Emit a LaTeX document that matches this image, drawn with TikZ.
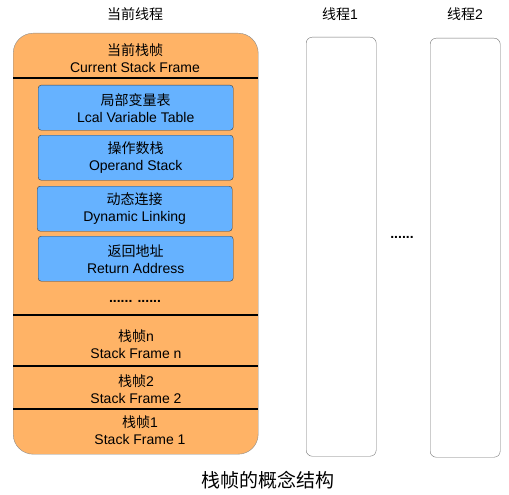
\documentclass[tikz,border=0pt]{standalone}
\usepackage{fontspec}
\setmainfont{Liberation Sans}
\newfontfamily\zhfont{Noto Sans CJK SC}
\newcommand{\zh}[1]{{\zhfont #1}}
\usepackage{xcolor}
\usetikzlibrary{calc, positioning}

\definecolor{frameorange}{RGB}{255,179,102}
\definecolor{partblue}{RGB}{102,178,255}

\begin{document}
\begin{tikzpicture}[x=1pt, y=-1pt,
    font=\fontsize{14}{17}\selectfont,
    stackbox/.style={draw=black!45, fill=frameorange, rounded corners=20pt,
        minimum width=245pt, minimum height=421pt, anchor=north west},
    threadbox/.style={draw=black!55, fill=white, rounded corners=6pt,
        minimum width=70pt, minimum height=419pt, anchor=north west},
    partbox/.style={draw=black!75, fill=partblue, rounded corners=3pt,
        minimum width=195pt, minimum height=45pt, inner sep=0pt,
        align=center, anchor=north west},
    sepline/.style={line width=2.5pt},
    label/.style={align=center, inner sep=0pt}]

    \useasboundingbox (0,0) rectangle (509,495);

    % =================================================================
    % 1. 主要坐标
    % =================================================================
    \coordinate (T0) at (13,33);
    \coordinate (T1) at (306,37);
    \coordinate (T2) at (430,38);

    % =================================================================
    % 2. 线程外框
    % =================================================================
    \node[stackbox] (cur) at (T0) {};
    \node[threadbox] (th1) at (T1) {};
    \node[threadbox] (th2) at (T2) {};

    % =================================================================
    % 3. 栈帧之间的分隔线
    % =================================================================
    \draw[sepline] (cur.west |- 0,78) -- (cur.east |- 0,78);
    \draw[sepline] (cur.west |- 0,315) -- (cur.east |- 0,315);
    \draw[sepline] (cur.west |- 0,366) -- (cur.east |- 0,366);
    \draw[sepline] (cur.west |- 0,409) -- (cur.east |- 0,409);

    % =================================================================
    % 4. 当前栈帧内部的四个部分
    % =================================================================
    \node[partbox] (lvt) at (38,85) {\zh{局部变量表}\\Lcal Variable Table};
    \node[partbox] (ops) at (38,135) {\zh{操作数栈}\\Operand Stack};
    \node[partbox] (dyn) at (37,186) {\zh{动态连接}\\Dynamic Linking};
    \node[partbox] (ret) at (38,236) {\zh{返回地址}\\Return Address};

    % =================================================================
    % 5. 文字标签
    % =================================================================
    \node[label] (curtitle) at (135,14) {\zh{当前线程}};
    \node[label] (th1title) at (340,14) {\zh{线程}1};
    \node[label] (th2title) at (465,14) {\zh{线程}2};

    \node[label] (curframe) at (135,58) {\zh{当前栈帧}\\Current Stack Frame};
    \node[label] (moredots) at (135,301) {\textbf{...... ......}};
    \node[label] (framen) at (136,344) {\zh{栈帧}n\\Stack Frame n};
    \node[label] (frame2) at (136,389) {\zh{栈帧}2\\Stack Frame 2};
    \node[label] (frame1) at (140,430) {\zh{栈帧}1\\Stack Frame 1};

    \node[label] (thdots) at (402,237) {\textbf{......}};

    % 图题
    \node[label, font=\fontsize{19}{22}\selectfont] (caption) at (268,480) {\zh{栈帧的概念结构}};

\end{tikzpicture}
\end{document}
